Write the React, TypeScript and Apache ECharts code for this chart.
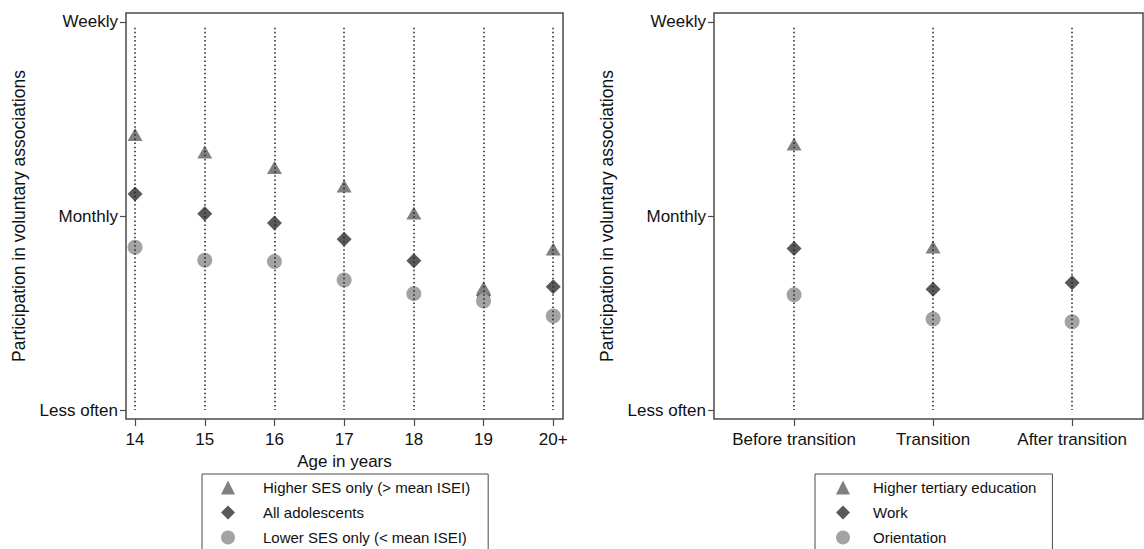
import React, { useEffect, useRef } from "react";
import * as echarts from "echarts";

// ---- Data ----
const ageLabels = ["14", "15", "16", "17", "18", "19", "20+"];
const higherSES = [2.42, 2.33, 2.25, 2.155, 2.015, 1.63, 1.83];
const allAdolescents = [2.113, 2.012, 1.964, 1.88, 1.77, 1.59, 1.636];
const lowerSES = [1.839, 1.772, 1.766, 1.67, 1.6, 1.562, 1.485];

const phaseLabels = ["Before transition", "Transition", "After transition"];
const tertiary = [2.371, 1.84, null];
const work = [1.833, 1.622, 1.656];
const orientation = [1.594, 1.469, 1.455];

const freqLabels = ["Less often", "Monthly", "Weekly"]; // values 1, 2, 3
const freqValues = [1, 2, 3];

const leftNames = ["Higher SES only (> mean ISEI)", "All adolescents", "Lower SES only (< mean ISEI)"];
const rightNames = ["Higher tertiary education", "Work", "Orientation"];

const FONT = "Liberation Sans, Arial, sans-serif";
const TRI = "#808080";
const DIA = "#595959";
const CIR = "#a3a3a3";
const BORDER = "#4a4a4a";

function yAxisFor(gridIndex: number) {
  return {
    type: "value",
    gridIndex,
    min: 0.954,
    max: 3.046,
    name: "Participation in voluntary associations",
    nameLocation: "middle",
    nameGap: 98,
    nameTextStyle: { fontFamily: FONT, fontSize: 17.5, color: "#111" },
    axisLine: { show: false, onZero: false },
    axisTick: { show: true, length: 6, customValues: freqValues, lineStyle: { color: BORDER, width: 1.2 } },
    axisLabel: {
      customValues: freqValues,
      margin: 8,
      fontFamily: FONT,
      fontSize: 17,
      color: "#111",
      formatter: (v: number) => freqLabels[Math.round(v) - 1],
    },
    splitLine: { show: false },
  };
}

function dropLines(labels: string[], xIdx: number) {
  return {
    type: "lines",
    coordinateSystem: "cartesian2d",
    xAxisIndex: xIdx,
    yAxisIndex: xIdx,
    z: 10,
    silent: true,
    lineStyle: { color: "#222", width: 1.5, type: [1.5, 2.6], opacity: 1 },
    data: labels.map((_, i) => ({ coords: [[i, 2.97], [i, freqValues[0]]] })),
  };
}

function scatter(name: string, data: (number | null)[], idx: number, symbol: string, color: string, size: any) {
  return {
    type: "scatter",
    name,
    xAxisIndex: idx,
    yAxisIndex: idx,
    symbol,
    symbolSize: size,
    itemStyle: { color, opacity: 1 },
    data: data.map((v, i) => (v == null ? [i, null] : [i, v])),
    z: 2,
  };
}

function legendFor(names: string[], left: number, padLeft: number, padRight: number, textPad: number) {
  return {
    data: names,
    left,
    top: 474,
    height: 300,
    orient: "vertical",
    itemWidth: 14,
    itemHeight: 14,
    itemGap: 10,
    padding: [6, padRight, 30, padLeft],
    borderColor: BORDER,
    borderWidth: 1,
    selectedMode: false,
    textStyle: { fontFamily: FONT, fontSize: 15, color: "#111", padding: [0, 0, 0, textPad] },
  };
}

export default function App() {
  const ref = useRef<HTMLDivElement>(null);
  useEffect(() => {
    if (!ref.current) return;
    const chart = echarts.init(ref.current, undefined, { renderer: "svg" });
    const option: any = {
      animation: false,
      backgroundColor: "#fff",
      grid: [
        { left: 126, top: 13, width: 437, height: 406, show: true, borderColor: BORDER, borderWidth: 1.5, backgroundColor: "transparent" },
        { left: 714, top: 13, width: 429, height: 406, show: true, borderColor: BORDER, borderWidth: 1.5, backgroundColor: "transparent" },
      ],
      xAxis: [
        {
          type: "value",
          gridIndex: 0,
          min: -0.13,
          max: 6.14,
          name: "Age in years",
          nameLocation: "middle",
          nameGap: 26,
          nameTextStyle: { fontFamily: FONT, fontSize: 17, color: "#111" },
          axisLine: { show: false, onZero: false },
          axisTick: { show: true, length: 7, customValues: ageLabels.map((_, i) => i), lineStyle: { color: BORDER, width: 1.2 } },
          axisLabel: {
            customValues: ageLabels.map((_, i) => i),
            margin: 12,
            fontFamily: FONT,
            fontSize: 17,
            color: "#111",
            formatter: (v: number) => ageLabels[Math.round(v)],
          },
          splitLine: { show: false },
        },
        {
          type: "value",
          gridIndex: 1,
          min: -0.576,
          max: 2.51,
          axisLine: { show: false, onZero: false },
          axisTick: { show: true, length: 7, customValues: phaseLabels.map((_, i) => i), lineStyle: { color: BORDER, width: 1.2 } },
          axisLabel: {
            customValues: phaseLabels.map((_, i) => i),
            margin: 12,
            fontFamily: FONT,
            fontSize: 17,
            color: "#111",
            formatter: (v: number) => phaseLabels[Math.round(v)],
          },
          splitLine: { show: false },
        },
      ],
      yAxis: [yAxisFor(0), yAxisFor(1)],
      legend: [legendFor(leftNames, 202, 19, 18, 23), legendFor(rightNames, 815, 21, 16, 18)],
      series: [
        scatter(leftNames[1], allAdolescents, 0, "diamond", DIA, [15, 15]),
        scatter(leftNames[0], higherSES, 0, "triangle", TRI, [15, 13]),
        scatter(leftNames[2], lowerSES, 0, "circle", CIR, [15, 15]),
        dropLines(ageLabels, 0),
        scatter(rightNames[1], work, 1, "diamond", DIA, [15, 15]),
        scatter(rightNames[0], tertiary, 1, "triangle", TRI, [15, 13]),
        scatter(rightNames[2], orientation, 1, "circle", CIR, [15, 15]),
        dropLines(phaseLabels, 1),
      ],
    };
    chart.setOption(option);
    return () => chart.dispose();
  }, []);
  return (
    <div
      ref={ref}
      style={{ position: "absolute", left: 0, top: 0, width: 1144, height: 549, background: "#fff" }}
    />
  );
}
